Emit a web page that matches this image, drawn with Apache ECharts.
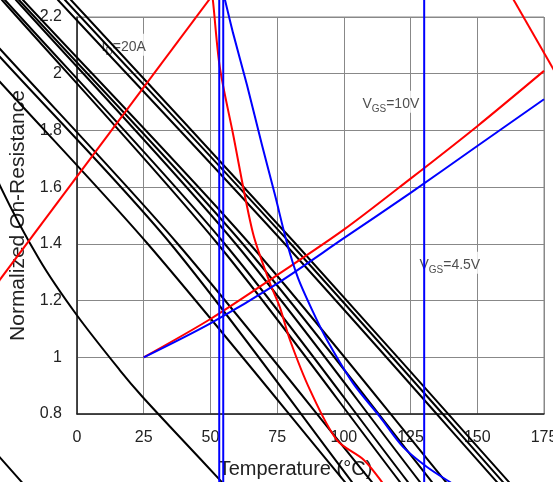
<!DOCTYPE html>
<html>
<head>
<meta charset="utf-8">
<script src="https://cdn.jsdelivr.net/npm/echarts@6/dist/echarts.min.js"></script>
<style>
  html, body { margin: 0; padding: 0; background: #fff; }
  #chart { width: 553px; height: 482px; }
</style>
</head>
<body>
<div id="chart"></div>
<script>
// Axis ticks
const tempTicks = [0, 25, 50, 75, 100, 125, 150, 175];
const resTicks = [0.8, 1.0, 1.2, 1.4, 1.6, 1.8, 2.0, 2.2];

// Normalized on-resistance vs temperature, [°C, ratio]
const vgs10 = [[25, 1.0], [50, 1.135], [75, 1.29], [100, 1.45], [125, 1.63], [150, 1.815], [175, 2.01]];
const vgs45 = [[25, 1.0], [50, 1.12], [75, 1.26], [100, 1.42], [125, 1.58], [150, 1.745], [175, 1.91]];

// Extra red traces
const redRise = [[-35, 1.197], [55, 2.33]];
const redFall = [[50.2, 2.30], [50.9, 2.261], [53.5, 2.024], [58.4, 1.791], [65.9, 1.439], [72.3, 1.262],
  [76.0, 1.177], [79.8, 1.061], [87.3, 0.885], [97.4, 0.708], [107.5, 0.638], [114.6, 0.556], [117, 0.52]];
const redCorner = [[160, 2.32], [181, 1.975]];

// Extra blue traces
const blueFall = [[54.34, 2.302], [55.46, 2.260], [58.46, 2.144], [63.70, 1.960], [69.32, 1.749],
  [74.20, 1.572], [78.69, 1.403], [82.81, 1.280], [88.44, 1.160], [93.68, 1.061], [103.42, 0.909],
  [113.54, 0.790], [122.16, 0.684], [131.15, 0.613], [139.77, 0.560], [145, 0.53]];
const blueVertA = [[53.3, 0.50], [53.3, 2.32]];
const blueVertB = [[54.8, 0.50], [54.8, 2.32]];
const blueVertC = [[130.1, 0.50], [130.1, 2.32]];

// Black traces
const blackCurve = [[-31, 1.68], [-29, 1.608], [-14.0, 1.343], [-0.1, 1.149], [16.0, 0.955], [24.6, 0.860],
  [38.5, 0.719], [54.3, 0.560], [57, 0.53]];
const blackShort = [[-31, 0.668], [-29, 0.648], [-20.7, 0.560], [-19, 0.54]];
const blackLines = [
  // right bundle
  [[-11.2, 2.302], [-7.12, 2.260], [77.57, 1.403], [157.39, 0.560], [161.0, 0.518]],
  [[-8.6, 2.302], [-4.50, 2.260], [79.82, 1.403], [159.64, 0.560], [163.2, 0.518]],
  [[-6.4, 2.302], [-2.25, 2.260], [81.69, 1.403], [161.88, 0.560], [165.5, 0.518]],
  // middle bundle
  [[-32.2, 2.302], [-28.10, 2.260], [52.46, 1.403], [121.04, 0.560], [124.6, 0.518]],
  [[-31.1, 2.302], [-26.98, 2.260], [55.09, 1.403], [124.03, 0.560], [127.6, 0.518]],
  [[-27.0, 2.302], [-22.86, 2.260], [59.21, 1.403], [128.53, 0.560], [132.1, 0.518]],
  [[-25.8, 2.302], [-21.73, 2.260], [61.83, 1.403], [133.03, 0.560], [136.6, 0.518]],
  [[-24.3, 2.302], [-20.24, 2.260], [64.45, 1.403], [138.27, 0.560], [141.8, 0.518]],
  // left bundle
  [[-32.6, 2.010], [-28.85, 1.971], [26.23, 1.403], [100.43, 0.560], [104.0, 0.518]],
  [[-32.6, 2.098], [-28.85, 2.059], [34.85, 1.403], [103.05, 0.560], [106.4, 0.518]],
  [[-32.6, 2.126], [-28.85, 2.087], [37.47, 1.403], [110.54, 0.560], [114.1, 0.518]]
];

// Annotation anchors
const noteId = [[17.5, 2.102]];
const noteVgs10 = [[117.6, 1.901]];
const noteVgs45 = [[139.7, 1.333]];

const FONT = '"Liberation Sans", Arial, sans-serif';
const W = 553, H = 482;
const plot = { left: 77, top: 17, right: 9, bottom: 68 };

// The traces run past the frame, so they live on a second, hidden pair of
// axes that spans the whole canvas with the same units per pixel.
const xMin = tempTicks[0], xMax = tempTicks[tempTicks.length - 1];
const yMin = resTicks[0], yMax = resTicks[resTicks.length - 1];
const xPerPx = (xMax - xMin) / (W - plot.left - plot.right);
const yPerPx = (yMax - yMin) / (H - plot.top - plot.bottom);
const wide = {
  xMin: xMin - plot.left * xPerPx, xMax: xMax + plot.right * xPerPx,
  yMin: yMin - plot.bottom * yPerPx, yMax: yMax + plot.top * yPerPx
};

function trace(data, color, smooth) {
  return {
    type: 'line', data: data, xAxisIndex: 1, yAxisIndex: 1, clip: false,
    smooth: smooth ? 0.3 : false, symbol: 'none', silent: true, z: 3,
    lineStyle: { color: color, width: 2 }
  };
}

function note(pos, fmt) {
  return {
    type: 'scatter', data: pos, symbolSize: 0, silent: true, z: 1,
    label: {
      show: true, position: 'inside', formatter: fmt,
      backgroundColor: '#fff', padding: [2, 2],
      rich: {
        t: { fontFamily: FONT, fontSize: 14, color: '#222', lineHeight: 18, verticalAlign: 'bottom' },
        s: { fontFamily: FONT, fontSize: 10, color: '#222', lineHeight: 18, verticalAlign: 'bottom', padding: [0, 0, -3, 0] }
      }
    }
  };
}

const series = [];
blackLines.forEach(l => series.push(trace(l, '#000', true)));
series.push(trace(blackCurve, '#000', true));
series.push(trace(blackShort, '#000', false));
series.push(trace(redRise, '#ff0000', false));
series.push(trace(redFall, '#ff0000', true));
series.push(trace(redCorner, '#ff0000', false));
series.push(trace(vgs10, '#ff0000', true));
series.push(trace(vgs45, '#0000ff', true));
series.push(trace(blueFall, '#0000ff', true));
series.push(trace(blueVertA, '#0000ff', false));
series.push(trace(blueVertB, '#0000ff', false));
series.push(trace(blueVertC, '#0000ff', false));
series.push(note(noteId, '{t|I}{s|D}{t|=20A}'));
series.push(note(noteVgs10, '{t|V}{s|GS}{t|=10V}'));
series.push(note(noteVgs45, '{t|V}{s|GS}{t|=4.5V}'));

const tidy = v => String(Math.round(v * 10) / 10);

const chart = echarts.init(document.getElementById('chart'), null, { renderer: 'canvas' });
chart.setOption({
  animation: false,
  backgroundColor: '#fff',
  grid: [
    { left: plot.left, top: plot.top, right: plot.right, bottom: plot.bottom, show: true,
      borderColor: '#888', borderWidth: 1, containLabel: false, outerBoundsMode: 'none' },
    { left: 0, top: 0, right: 0, bottom: 0, containLabel: false, outerBoundsMode: 'none' }
  ],
  xAxis: [{
    type: 'value', gridIndex: 0, min: xMin, max: xMax, interval: tempTicks[1] - tempTicks[0],
    name: 'Temperature (°C)', nameLocation: 'middle', nameGap: 45,
    nameTextStyle: { fontFamily: FONT, fontSize: 20, color: '#222', padding: [0, 30, 0, 0] },
    axisLine: { lineStyle: { color: '#222', width: 1.5 } },
    axisTick: { show: false },
    axisLabel: { fontFamily: FONT, fontSize: 16, color: '#222', margin: 16, formatter: tidy },
    splitLine: { lineStyle: { color: '#888', width: 1 } }
  }, {
    type: 'value', gridIndex: 1, min: wide.xMin, max: wide.xMax, show: false
  }],
  yAxis: [{
    type: 'value', gridIndex: 0, min: yMin, max: yMax, interval: resTicks[1] - resTicks[0],
    name: 'Normalized On-Resistance', nameLocation: 'middle', nameGap: 42,
    nameTextStyle: { fontFamily: FONT, fontSize: 21, color: '#222' },
    axisLine: { lineStyle: { color: '#222', width: 1.5 } },
    axisTick: { show: false },
    axisLabel: { fontFamily: FONT, fontSize: 16, color: '#222', margin: 15, formatter: tidy },
    splitLine: { lineStyle: { color: '#888', width: 1 } }
  }, {
    type: 'value', gridIndex: 1, min: wide.yMin, max: wide.yMax, show: false
  }],
  series: series
});
</script>
</body>
</html>
